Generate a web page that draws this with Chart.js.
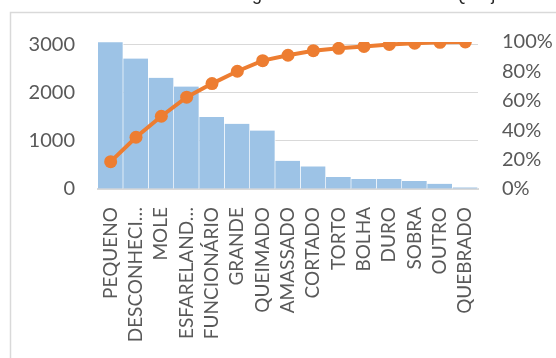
<!DOCTYPE html>
<html>
<head>
<meta charset="utf-8">
<script src="https://cdn.jsdelivr.net/npm/chart.js@4/dist/chart.umd.min.js"></script>
<style>
  html, body { margin: 0; padding: 0; background: #ffffff; }
  #wrap { width: 556px; height: 358px; position: relative; overflow: hidden; }
</style>
</head>
<body>
<div id="wrap"><canvas id="pareto" width="556" height="358"></canvas></div>
<script>
// Pareto chart: defect counts (bars) and cumulative share (line)
const titleText = 'Diagrama de Pareto Pão de Queijo';
const categories = ['PEQUENO', 'DESCONHECIDO', 'MOLE', 'ESFARELANDO', 'FUNCIONÁRIO', 'GRANDE',
  'QUEIMADO', 'AMASSADO', 'CORTADO', 'TORTO', 'BOLHA', 'DURO', 'SOBRA', 'OUTRO', 'QUEBRADO'];
const tickLabels = ['PEQUENO', 'DESCONHECI…', 'MOLE', 'ESFARELAND…', 'FUNCIONÁRIO', 'GRANDE',
  'QUEIMADO', 'AMASSADO', 'CORTADO', 'TORTO', 'BOLHA', 'DURO', 'SOBRA', 'OUTRO', 'QUEBRADO'];
const counts = [3056, 2715, 2314, 2133, 1497, 1358, 1218, 588, 470, 249, 208, 208, 166, 110, 33];
const cumulativePct = [18.6, 35.2, 49.5, 62.5, 71.7, 80.1, 87.3, 91.0, 94.1, 95.7, 97.0, 98.3, 99.2, 99.8, 100];
const countTicks = [0, 500, 1000, 1500, 2000, 2500, 3000];
const pctTicks = [0, 20, 40, 60, 80, 100];
const countAxisMax = 3060;

const FONT = 'Lato';
const TITLE_FONT = '"Liberation Sans"';
const TEXT_GREY = '#595959';
const GRID_GREY = '#d9d9d9';

// Frame of the chart box and the title line above it (only its lowest strokes fit on the canvas)
const framePlugin = {
  id: 'frame',
  beforeDraw(chart) {
    const ctx = chart.ctx;
    ctx.save();
    ctx.fillStyle = '#ffffff';
    ctx.fillRect(0, 0, chart.width, chart.height);
    ctx.strokeStyle = GRID_GREY;
    ctx.lineWidth = 1.5;
    ctx.strokeRect(10.5, 12.5, 700, 500);

    ctx.font = '18px ' + TITLE_FONT;
    ctx.fillStyle = '#262626';
    ctx.textAlign = 'left';
    ctx.textBaseline = 'top';
    const gIndex = titleText.indexOf('g');
    const pre = ctx.measureText(titleText.slice(0, gIndex)).width;
    const gMetrics = ctx.measureText('g');
    const aMetrics = ctx.measureText('aeo');
    // the lowest point of the descenders lands 4.5px below the canvas edge,
    // while the rounded bottoms of ordinary letters stay above it
    const yTop = Math.min(4.5 - gMetrics.actualBoundingBoxDescent, -aMetrics.actualBoundingBoxDescent - 0.3);
    ctx.fillText(titleText, 257 - pre - gMetrics.width / 2, yTop);
    ctx.restore();
  }
};

const fixedTicks = values => scale => {
  scale.ticks = values.map(v => ({ value: v }));
};

new Chart(document.getElementById('pareto'), {
  data: {
    labels: tickLabels,
    datasets: [
      {
        type: 'line',
        label: 'Acumulado',
        data: cumulativePct,
        yAxisID: 'y1',
        order: 0,
        borderColor: '#ed7d31',
        backgroundColor: '#ed7d31',
        borderWidth: 4,
        pointRadius: 6.5,
        pointBorderWidth: 0,
        pointBackgroundColor: '#ed7d31',
        tension: 0
      },
      {
        type: 'bar',
        label: 'Quantidade',
        data: counts,
        yAxisID: 'y',
        order: 1,
        backgroundColor: '#9dc3e6',
        borderColor: '#ffffff',
        borderWidth: { left: 0, right: 1, top: 0, bottom: 0 },
        borderSkipped: false,
        categoryPercentage: 1,
        barPercentage: 1
      }
    ]
  },
  options: {
    responsive: false,
    animation: false,
    devicePixelRatio: 1,
    layout: { padding: { top: 42, left: 0, right: 0, bottom: 0 } },
    plugins: {
      legend: { display: false },
      title: { display: false },
      tooltip: { enabled: false }
    },
    scales: {
      x: {
        grid: { display: false, drawTicks: false },
        border: { color: GRID_GREY, width: 2 },
        ticks: {
          autoSkip: false,
          minRotation: 90,
          maxRotation: 90,
          padding: 18,
          color: TEXT_GREY,
          font: { family: FONT, size: 19 }
        },
        afterFit(scale) { scale.height = 169; }
      },
      y: {
        position: 'left',
        min: 0,
        max: countAxisMax,
        grid: { color: GRID_GREY, lineWidth: 1, drawTicks: false },
        border: { display: false },
        afterBuildTicks: fixedTicks(countTicks),
        ticks: {
          padding: 23,
          color: TEXT_GREY,
          font: { family: FONT, size: 20 },
          callback: v => String(v)
        },
        afterFit(scale) { scale.width = 98; }
      },
      y1: {
        position: 'right',
        min: 0,
        max: 100,
        grid: { display: false, drawTicks: false },
        border: { display: false },
        afterBuildTicks: fixedTicks(pctTicks),
        ticks: {
          padding: 24,
          color: TEXT_GREY,
          font: { family: FONT, size: 20 },
          callback: v => v + '%'
        },
        afterFit(scale) { scale.width = 78; }
      }
    }
  },
  plugins: [framePlugin]
});
</script>
</body>
</html>
